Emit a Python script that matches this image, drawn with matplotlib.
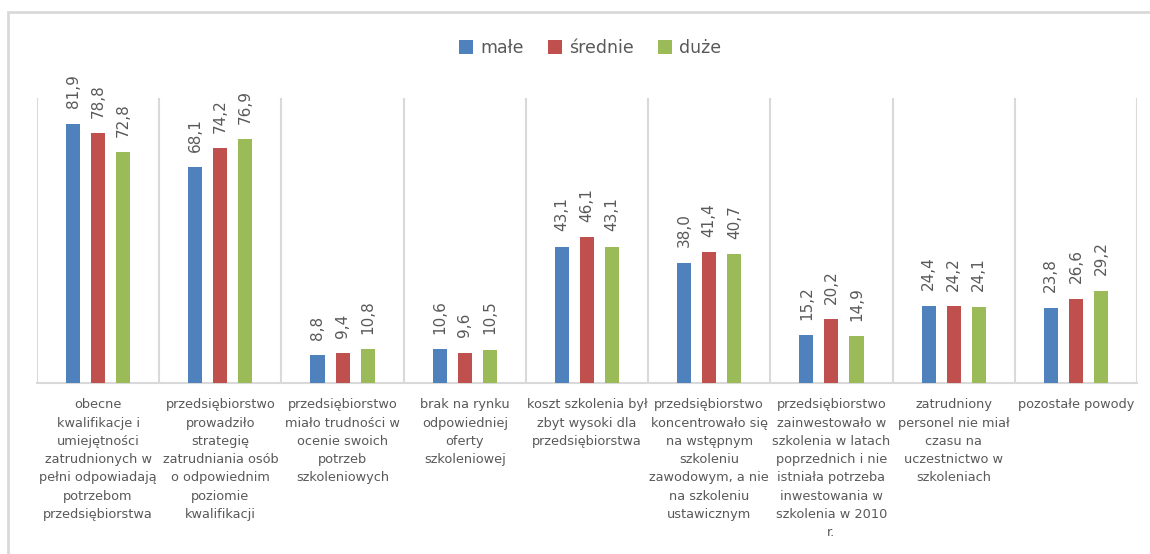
import matplotlib.pyplot as plt
import matplotlib.patches as patches
import numpy as np

# Powody nieprowadzenia szkoleń wg wielkości przedsiębiorstwa (%)
kategorie = [
    "obecne\nkwalifikacje i\numiejętności\nzatrudnionych w\npełni odpowiadają\npotrzebom\nprzedsiębiorstwa",
    "przedsiębiorstwo\nprowadziło\nstrategię\nzatrudniania osób\no odpowiednim\npoziomie\nkwalifikacji",
    "przedsiębiorstwo\nmiało trudności w\nocenie swoich\npotrzeb\nszkoleniowych",
    "brak na rynku\nodpowiedniej\noferty\nszkoleniowej",
    "koszt szkolenia był\nzbyt wysoki dla\nprzedsiębiorstwa",
    "przedsiębiorstwo\nkoncentrowało się\nna wstępnym\nszkoleniu\nzawodowym, a nie\nna szkoleniu\nustawicznym",
    "przedsiębiorstwo\nzainwestowało w\nszkolenia w latach\npoprzednich i nie\nistniała potrzeba\ninwestowania w\nszkolenia w 2010\nr.",
    "zatrudniony\npersonel nie miał\nczasu na\nuczestnictwo w\nszkoleniach",
    "pozostałe powody",
]
male = [81.9, 68.1, 8.8, 10.6, 43.1, 38.0, 15.2, 24.4, 23.8]
srednie = [78.8, 74.2, 9.4, 9.6, 46.1, 41.4, 20.2, 24.2, 26.6]
duze = [72.8, 76.9, 10.8, 10.5, 43.1, 40.7, 14.9, 24.1, 29.2]

serie = [("małe", male, "#4F81BD"),
         ("średnie", srednie, "#C0504D"),
         ("duże", duze, "#9BBB59")]

szary = "#595959"
linia = "#d9d9d9"

fig = plt.figure(figsize=(11.5, 5.54), dpi=100)
ax = fig.add_axes([37 / 1150, 1 - 383 / 554, 1100 / 1150, 285 / 554])

x = np.arange(len(kategorie))
szer = 0.115
odst = 0.205

for i, (nazwa, wart, kolor) in enumerate(serie):
    pos = x + (i - 1) * odst
    bars = ax.bar(pos, wart, width=szer, color=kolor, label=nazwa, zorder=3)
    for b, v in zip(bars, wart):
        ax.annotate(f"{v:.1f}".replace(".", ","),
                    xy=(b.get_x() + b.get_width() / 2, v),
                    xytext=(0, 11), textcoords="offset points",
                    rotation=90, ha="center", va="bottom",
                    fontsize=11, color=szary)

ax.set_xlim(-0.5, len(kategorie) - 0.5)
ax.set_ylim(0, 90)
ax.set_yticks([])

# linie oddzielające kategorie
for g in np.arange(-0.5, len(kategorie), 1.0):
    ax.axvline(g, color=linia, lw=1.5, zorder=1)

for s in ["top", "left", "right"]:
    ax.spines[s].set_visible(False)
ax.spines["bottom"].set_color(linia)
ax.spines["bottom"].set_linewidth(1.5)

ax.set_xticks(x)
ax.set_xticklabels(kategorie, fontsize=9.3, color=szary, linespacing=1.53,
                   va="top", ha="center")
ax.tick_params(axis="x", length=0, pad=11)

leg = fig.legend(loc="center", bbox_to_anchor=(0.513, 1 - 48 / 554), ncol=3,
                 frameon=False, fontsize=12.5, handlelength=0.8,
                 handleheight=0.8, handletextpad=0.4, columnspacing=1.4)
for t in leg.get_texts():
    t.set_color(szary)

# ramka wykresu
fig.patches.append(patches.Rectangle((8 / 1150, -0.05), 1.05, 1.05 - 12 / 554,
                                     transform=fig.transFigure, fill=False,
                                     edgecolor=linia, lw=2))

fig.savefig("out.png", dpi=100)
